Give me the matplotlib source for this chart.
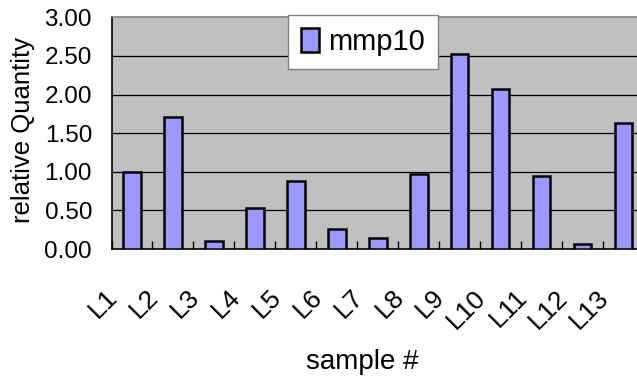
import matplotlib
matplotlib.use("Agg")
import matplotlib.pyplot as plt
import matplotlib.transforms as mtransforms
import numpy as np

categories = ["L1", "L2", "L3", "L4", "L5", "L6", "L7", "L8", "L9", "L10", "L11", "L12", "L13"]
values = [1.00, 1.71, 0.11, 0.53, 0.88, 0.26, 0.14, 0.97, 2.53, 2.07, 0.95, 0.06, 1.63]
series_name = "mmp10"
yticks = [0.0, 0.5, 1.0, 1.5, 2.0, 2.5, 3.0]

plt.rcParams['font.family'] = ['Liberation Sans', 'DejaVu Sans']

W, H = 637, 381
fig = plt.figure(figsize=(W / 100, H / 100), dpi=100)
left, right, top, bottom = 111.5, 644, 17.4, 249
ax = fig.add_axes([left / W, 1 - bottom / H, (right - left) / W, (bottom - top) / H])

x = np.arange(len(categories))
ax.set_facecolor("#C0C0C0")
ax.bar(x, values, width=0.43, color="#9999FF", edgecolor="black", linewidth=1.8,
       label=series_name, zorder=3)
ax.set_xlim(-0.5, len(categories) - 0.5)
ax.set_ylim(0, 3.0)

ax.set_yticks(yticks)
ax.set_yticklabels([f"{v:.2f}" for v in yticks], fontsize=17.5)
ax.tick_params(axis="y", length=0, pad=14)
for v in yticks[1:-1]:
    ax.axhline(v, color="black", linewidth=0.9, zorder=1)

ax.set_xticks(x)
ax.set_xticklabels(categories, fontsize=19, rotation=45, ha="right", va="top",
                   rotation_mode="default")
ax.tick_params(axis="x", which="major", length=0, pad=26)
ax.set_xticks(np.arange(len(categories) + 1) - 0.5, minor=True)
ax.tick_params(axis="x", which="minor", direction="in", length=6, width=1, color="black")
offset = mtransforms.ScaledTranslation(-10 / 100, 0, fig.dpi_scale_trans)
for lab in ax.get_xticklabels():
    lab.set_transform(lab.get_transform() + offset)

for s in ["left", "bottom"]:
    ax.spines[s].set_color("black")
    ax.spines[s].set_linewidth(1.2)
ax.spines["top"].set_color("#808080")
ax.spines["top"].set_linewidth(1.2)
ax.spines["right"].set_visible(False)

fig.text(23 / W, 1 - 130 / H, "relative Quantity", fontsize=18.5, rotation=90,
         ha="center", va="center")
fig.text(362 / W, 1 - 362 / H, "sample #", fontsize=20, ha="center", va="center")

leg = fig.legend(loc="upper left", bbox_to_anchor=(288 / W, 1 - 15 / H), borderaxespad=0,
                 fontsize=21, handlelength=0.62, handleheight=0.9, handletextpad=0.3,
                 borderpad=0.45, fancybox=False, framealpha=1, edgecolor="#808080")
leg.get_frame().set_linewidth(1.0)

fig.savefig("out.png", dpi=100)
